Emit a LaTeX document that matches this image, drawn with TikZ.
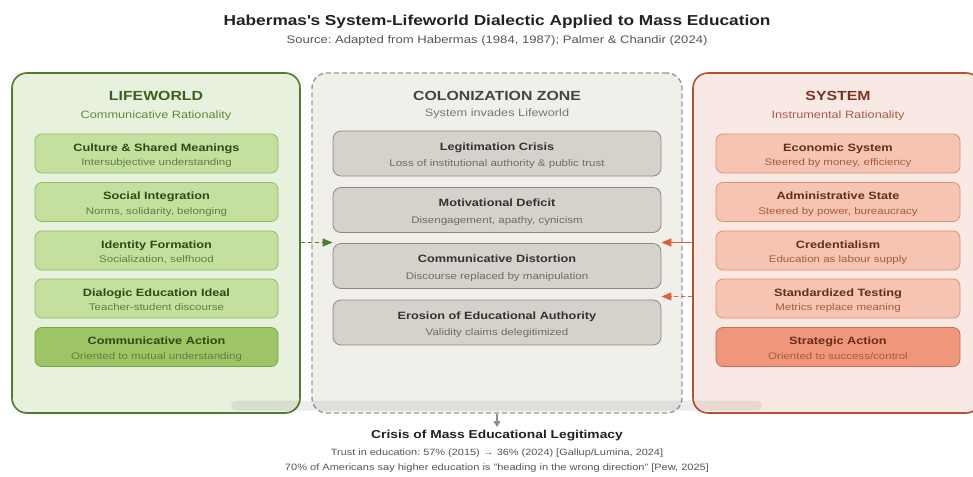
\documentclass[tikz,border=0pt]{standalone}
\usepackage{fontspec}
\setmainfont{Liberation Sans}[FakeStretch=1.2]
\usetikzlibrary{arrows.meta}
\frenchspacing

% palette
\definecolor{lwBorder}{HTML}{4E7D2B}
\definecolor{lwFill}{HTML}{E8F1DE}
\definecolor{lwBox}{HTML}{C5DF9F}
\definecolor{lwBoxLine}{HTML}{8FBC5E}
\definecolor{lwAct}{HTML}{9DC565}
\definecolor{lwActLine}{HTML}{79A645}
\definecolor{lwHead}{HTML}{3B6020}
\definecolor{lwSub}{HTML}{5B8A3A}
\definecolor{lwTitle}{HTML}{2E4A18}
\definecolor{lwNote}{HTML}{5F7F40}
\definecolor{czBorder}{HTML}{9A9A9A}
\definecolor{czFill}{HTML}{F1EFEA}
\definecolor{czBox}{HTML}{D5D2CB}
\definecolor{czBoxLine}{HTML}{8C8A85}
\definecolor{czHead}{HTML}{444444}
\definecolor{czSub}{HTML}{777777}
\definecolor{czTitle}{HTML}{333333}
\definecolor{czNote}{HTML}{6B6B6B}
\definecolor{syBorder}{HTML}{B5532F}
\definecolor{syFill}{HTML}{F9E9E4}
\definecolor{syBox}{HTML}{F6C4B2}
\definecolor{syBoxLine}{HTML}{E88D6E}
\definecolor{syAct}{HTML}{F0977B}
\definecolor{syActLine}{HTML}{C96C50}
\definecolor{syHead}{HTML}{7A3320}
\definecolor{sySub}{HTML}{A85A42}
\definecolor{syTitle}{HTML}{6A2C1A}
\definecolor{syNote}{HTML}{A65A40}
\definecolor{arrOrange}{HTML}{D9623B}
\definecolor{ink}{HTML}{222222}
\definecolor{grayText}{HTML}{555555}

% baseline offsets of the two text lines inside a box (from its centre)
\newcommand\titleraise{2.5pt}
\newcommand\noteraise{-12pt}

% one inner box: name, style, x, y, title, note, title colour, note colour
\newcommand\innerbox[8]{%
  \node[#2] (#1) at (#3,#4) {};
  \node[boxtitle, text=#7] (#1-t) at ([yshift=\titleraise]#1.center) {#5};
  \node[boxnote, text=#8] (#1-n) at ([yshift=\noteraise]#1.center) {#6};
}

\begin{document}
\begin{tikzpicture}[x=1pt,y=-1pt,
  panel/.style={rounded corners=15pt, line width=1.6pt, minimum width=288pt, minimum height=340pt, inner sep=0pt},
  lwbox/.style={rounded corners=7pt, draw=lwBoxLine, fill=lwBox, line width=0.8pt, minimum width=243pt, minimum height=39pt, inner sep=0pt},
  lwact/.style={lwbox, draw=lwActLine, fill=lwAct},
  czbox/.style={rounded corners=8pt, draw=czBoxLine, fill=czBox, line width=0.8pt, minimum width=328pt, minimum height=45pt, inner sep=0pt},
  sybox/.style={rounded corners=7pt, draw=syBoxLine, fill=syBox, line width=0.8pt, minimum width=244pt, minimum height=39pt, inner sep=0pt},
  syact/.style={sybox, draw=syActLine, fill=syAct},
  plain/.style={inner sep=0pt, anchor=base},
  boxtitle/.style={plain, font=\fontsize{10.6}{12}\selectfont\bfseries},
  boxnote/.style={plain, font=\fontsize{9.6}{11}\selectfont},
  head/.style={plain, font=\fontsize{13.2}{15}\selectfont\bfseries},
  subhead/.style={plain, font=\fontsize{10.6}{12}\selectfont},
  link/.style={line width=1.5pt, -{Triangle[length=10pt,width=8pt]}}
]
\clip (0,0) rectangle (973,476);
\fill[white] (0,0) rectangle (973,476);

% heading
\node[plain, font=\fontsize{14.4}{17}\selectfont\bfseries, text=ink] (title) at (497,25.5) {Habermas\textquotesingle s System-Lifeworld Dialectic Applied to Mass Education};
\node[plain, font=\fontsize{10.9}{12}\selectfont, text=grayText] (source) at (497,44) {Source: Adapted from Habermas (1984, 1987); Palmer \& Chandir (2024)};

% the three panels
\node[panel, draw=lwBorder, fill=lwFill] (lw) at (156,243) {};
\node[panel, draw=czBorder, fill=czFill, dashed, dash pattern=on 5pt off 3pt, line width=1.4pt, minimum width=370pt] (cz) at (497,243) {};
\node[panel, draw=syBorder, fill=syFill] (sy) at (837,243) {};

% lifeworld
\node[head, text=lwHead] (lw-h) at (156,101) {LIFEWORLD};
\node[subhead, text=lwSub] (lw-s) at (156,118) {Communicative Rationality};
\innerbox{lw1}{lwbox}{156.5}{153.5}{Culture \& Shared Meanings}{Intersubjective understanding}{lwTitle}{lwNote}
\innerbox{lw2}{lwbox}{156.5}{202}{Social Integration}{Norms, solidarity, belonging}{lwTitle}{lwNote}
\innerbox{lw3}{lwbox}{156.5}{250.5}{Identity Formation}{Socialization, selfhood}{lwTitle}{lwNote}
\innerbox{lw4}{lwbox}{156.5}{298.5}{Dialogic Education Ideal}{Teacher-student discourse}{lwTitle}{lwNote}
\innerbox{lw5}{lwact}{156.5}{347}{Communicative Action}{Oriented to mutual understanding}{lwTitle}{lwNote}

% system
\node[head, text=syHead] (sy-h) at (838,101) {SYSTEM};
\node[subhead, text=sySub] (sy-s) at (838,118) {Instrumental Rationality};
\innerbox{sy1}{sybox}{838}{153.5}{Economic System}{Steered by money, efficiency}{syTitle}{syNote}
\innerbox{sy2}{sybox}{838}{202}{Administrative State}{Steered by power, bureaucracy}{syTitle}{syNote}
\innerbox{sy3}{sybox}{838}{250.5}{Credentialism}{Education as labour supply}{syTitle}{syNote}
\innerbox{sy4}{sybox}{838}{298.5}{Standardized Testing}{Metrics replace meaning}{syTitle}{syNote}
\innerbox{sy5}{syact}{838}{347}{Strategic Action}{Oriented to success/control}{syTitle}{syNote}

% colonization zone (taller boxes)
\renewcommand\titleraise{3.5pt}
\renewcommand\noteraise{-13pt}
\node[head, text=czHead] (cz-h) at (497,101) {COLONIZATION ZONE};
\node[subhead, text=czSub] (cz-s) at (497,116.5) {System invades Lifeworld};
\innerbox{cz1}{czbox}{497}{153.5}{Legitimation Crisis}{Loss of institutional authority \& public trust}{czTitle}{czNote}
\innerbox{cz2}{czbox}{497}{210}{Motivational Deficit}{Disengagement, apathy, cynicism}{czTitle}{czNote}
\innerbox{cz3}{czbox}{497}{266}{Communicative Distortion}{Discourse replaced by manipulation}{czTitle}{czNote}
\innerbox{cz4}{czbox}{497}{322.5}{Erosion of Educational Authority}{Validity claims delegitimized}{czTitle}{czNote}

% translucent strip along the lower edge
\fill[black, opacity=0.07, rounded corners=5pt] (231,400.5) rectangle (762,410.5);

% connectors between the panels
\draw[link, draw=lwBorder, fill=lwBorder, dashed, dash pattern=on 4pt off 3pt] (lw.east |- 0,242.5) -- (cz3.west |- 0,242.5);
\draw[link, draw=arrOrange, fill=arrOrange] (sy.west |- 0,242.5) -- (cz3.east |- 0,242.5);
\draw[link, draw=arrOrange, fill=arrOrange, dashed, dash pattern=on 4pt off 3pt, line width=1.2pt] (sy.west |- 0,296.5) -- (cz3.east |- 0,296.5);

% outcome
\node[plain, font=\fontsize{11.5}{13}\selectfont\bfseries, text=ink] (crisis) at (497,438) {Crisis of Mass Educational Legitimacy};
\draw[line width=1.4pt, draw=gray!90, -{Triangle[length=6pt,width=7pt]}] (cz.south) -- (497,427);
\node[plain, font=\fontsize{9.1}{11}\selectfont, text=grayText] (trust) at (497,455.5) {Trust in education: 57\% (2015) → 36\% (2024) [Gallup/Lumina, 2024]};
\node[plain, font=\fontsize{9.2}{11}\selectfont, text=grayText] (pew) at (497,470.5) {70\% of Americans say higher education is "heading in the wrong direction" [Pew, 2025]};
\end{tikzpicture}
\end{document}
